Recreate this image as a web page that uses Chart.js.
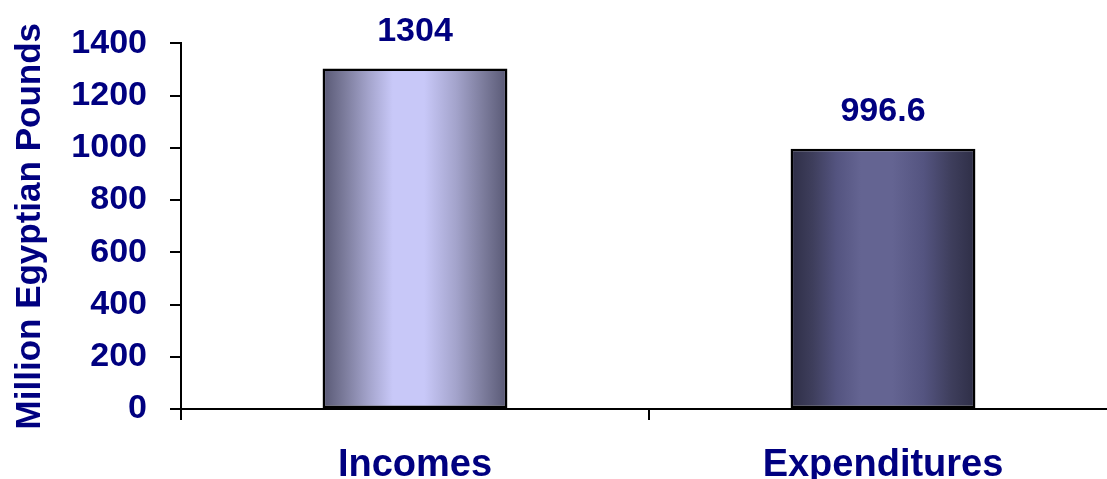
<!DOCTYPE html>
<html>
<head>
<meta charset="utf-8">
<script src="https://cdn.jsdelivr.net/npm/chart.js@4"></script>
<style>
  html, body { margin: 0; padding: 0; background: #fff; overflow: hidden; }
  #wrap { width: 1117px; height: 479px; }
</style>
</head>
<body>
<div id="wrap"><canvas id="grafica" width="1117" height="479"></canvas></div>
<script>
const categorias = ["Incomes", "Expenditures"];
const valores = [1304, 996.6];
const marcasY = [0, 200, 400, 600, 800, 1000, 1200, 1400];

const azul = "#000080";
const fuente = "Arial, 'Liberation Sans', sans-serif";

// colores del cilindro: borde, medio, centro
const tonos = [
    ["#585874", "#7c7c9c", "#a4a4cc", "#c8c8f8"],
    ["#2e2e46", "#3e3e5c", "#545480", "#646492"]
];

const BAR_PCT = 0.395;

function degradado(c) {
    const chart = c.chart;
    const escala = chart.scales.x;
    if (!escala || !chart.chartArea) return tonos[c.dataIndex][3];
    const centro = escala.getPixelForValue(c.dataIndex);
    const medio = escala.width / categorias.length * BAR_PCT / 2;
    const g = chart.ctx.createLinearGradient(centro - medio, 0, centro + medio, 0);
    const t = tonos[c.dataIndex];
    g.addColorStop(0, t[0]);
    g.addColorStop(0.12, t[1]);
    g.addColorStop(0.25, t[2]);
    g.addColorStop(0.38, t[3]);
    g.addColorStop(0.55, t[3]);
    g.addColorStop(0.72, t[2]);
    g.addColorStop(0.87, t[1]);
    g.addColorStop(1, t[0]);
    return g;
}

// etiquetas de valor encima de cada barra
const etiquetas = {
    id: "etiquetas",
    afterDatasetsDraw(chart) {
        const ctx = chart.ctx;
        const meta = chart.getDatasetMeta(0);
        ctx.save();
        ctx.font = "bold 34px " + fuente;
        ctx.fillStyle = azul;
        ctx.textAlign = "center";
        ctx.textBaseline = "middle";
        meta.data.forEach((el, i) => {
            ctx.fillText(String(valores[i]), el.x, el.y - 37);
        });
        ctx.restore();
    }
};

new Chart(document.getElementById("grafica"), {
    type: "bar",
    data: {
        labels: categorias,
        datasets: [{
            data: valores,
            backgroundColor: degradado,
            borderColor: "#000",
            borderWidth: 2.5,
            borderSkipped: false,
            barPercentage: BAR_PCT,
            categoryPercentage: 1
        }]
    },
    options: {
        responsive: false,
        animation: false,
        layout: { padding: { top: 39, left: 0, right: 0, bottom: 0 } },
        plugins: {
            legend: { display: false },
            tooltip: { enabled: false }
        },
        scales: {
            x: {
                afterFit(s) { s.height = 70; },
                border: { color: "#000", width: 2 },
                grid: { drawOnChartArea: false, color: "#000", lineWidth: 2, tickLength: 11, offset: true },
                ticks: { color: azul, font: { family: fuente, size: 38, weight: "bold" }, padding: 23 }
            },
            y: {
                min: 0,
                max: 1400,
                afterFit(s) { s.width = 181; },
                afterBuildTicks(s) { s.ticks = marcasY.map(v => ({ value: v })); },
                border: { color: "#000", width: 2 },
                grid: { drawOnChartArea: false, color: "#000", lineWidth: 2, tickLength: 11 },
                ticks: {
                    color: azul,
                    font: { family: fuente, size: 34, weight: "bold" },
                    padding: 23,
                    callback: v => String(v)
                },
                title: {
                    display: true,
                    text: "Million Egyptian Pounds",
                    color: azul,
                    font: { family: fuente, size: 35, weight: "bold" },
                    padding: { top: 9, bottom: 0 }
                }
            }
        }
    },
    plugins: [etiquetas]
});
</script>
</body>
</html>
